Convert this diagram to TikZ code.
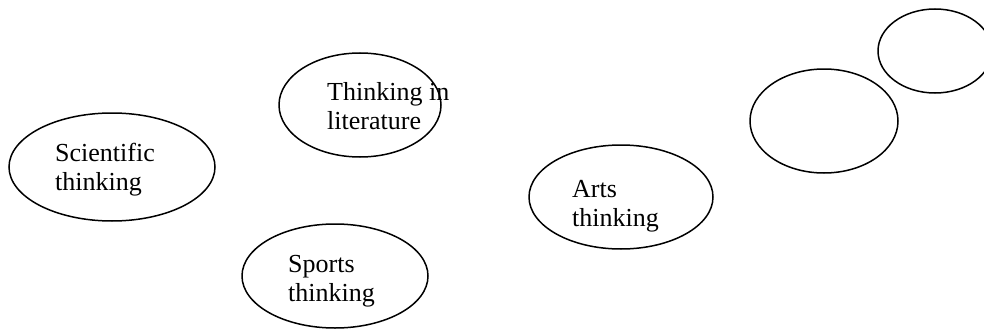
\documentclass[tikz,border=0pt]{standalone}
\usepackage{fontspec}
\setmainfont{Liberation Serif}
\usetikzlibrary{shapes.geometric}

\tikzset{
	bubble/.style = { draw, ellipse, line width = 1.5pt, inner sep = 0pt },
	words/.style = { anchor = north west, inner sep = 0pt, align = left,
		font = \fontsize{26}{29}\selectfont }
}

\begin{document}
\begin{tikzpicture}[x=1pt, y=-1pt]
		\useasboundingbox ( 0, 0 ) rectangle ( 984, 329 );

		% виды мышления
		\node [bubble, minimum width = 206, minimum height = 108] (sci) at ( 112, 167 ) {};
		\node [words] (scitext) at ( 55, 143 ) {Scientific\\thinking};

		\node [bubble, minimum width = 162, minimum height = 104] (lit) at ( 360, 105 ) {};
		\node [words] (littext) at ( 327, 82 ) {Thinking in\\literature};

		\node [bubble, minimum width = 186, minimum height = 104] (sport) at ( 335, 276 ) {};
		\node [words] (sporttext) at ( 288, 255 ) {Sports\\thinking};

		\node [bubble, minimum width = 184, minimum height = 104] (arts) at ( 621, 197 ) {};
		\node [words] (artstext) at ( 572, 180 ) {Arts\\thinking};

		% пустые
		\node [bubble, minimum width = 148, minimum height = 104] (empty1) at ( 824, 121 ) {};
		\node [bubble, minimum width = 114, minimum height = 84] (empty2) at ( 935, 51 ) {};
	\end{tikzpicture}
\end{document}
